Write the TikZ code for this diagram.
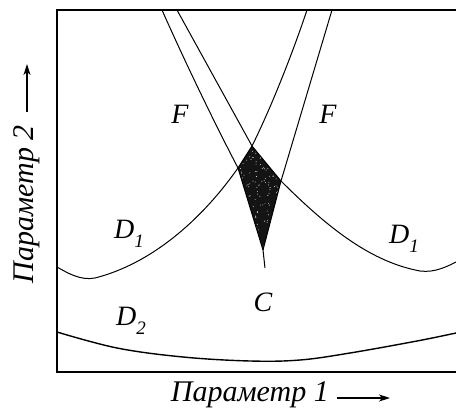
\documentclass[tikz,border=0pt]{standalone}
\usepackage{fontspec}
\setmainfont{Liberation Serif}
\usetikzlibrary{arrows.meta}
\newcommand{\lbl}[2]{\textit{#1}\raisebox{-0.3em}{\fontsize{19}{19}\selectfont\textit{#2}}}
\begin{document}
\begin{tikzpicture}[x=1pt,y=-1pt,
  curve/.style={line width=1pt,line join=round},
  frame/.style={line width=1.3pt},
  txt/.style={inner sep=0pt,font=\fontsize{28}{32}\selectfont\itshape},
  axtxt/.style={inner sep=0pt,font=\fontsize{30}{34}\selectfont\itshape},
  axarrow/.style={line width=1.1pt,-{Stealth[length=11pt,width=7pt,inset=3pt]}}]
\useasboundingbox (0,0) rectangle (456,415);
% frame
\draw[frame] (456,10) -- (57,10) -- (57,372) -- (456,372);
% key points
\coordinate (T) at (252,146);
\coordinate (L) at (238,168);
\coordinate (R) at (281,181);
\coordinate (B) at (263,250);
\coordinate (tip) at (265,268);
% shaded cusp region
\fill[black!92] (T) -- (R) -- (B) -- (L) -- cycle;
\begin{scope}
\clip (T) -- (R) -- (B) -- (L) -- cycle;
\pgfmathsetseed{7}
\foreach \i in {1,...,200}{
  \pgfmathsetmacro{\u}{rnd}
  \pgfmathsetmacro{\v}{rnd}
  \fill[white] ({238+\u*43},{146+\v*104}) circle (0.45pt);
}
\end{scope}
% left band outer line and left edge of the shaded region
\draw[curve] (162,10) .. controls (186,64) and (214,122) .. (L) -- (B) -- (tip);
% left band inner line, continuing as right D1 curve
\draw[curve] (177,10) -- (T) -- (R)
  .. controls (330,230) and (372,262) .. (420,271)
  .. controls (435,273) and (448,266) .. (456,262);
% right band left line, continuing as left D1 curve
\draw[curve] (307,10) .. controls (292,55) and (270,110) .. (T) -- (L)
  .. controls (200,222) and (150,264) .. (95,278)
  .. controls (80,281) and (66,272) .. (57,267);
% right band right line
\draw[curve] (332,10) -- (R) -- (B);
% D2 curve
\draw[line width=1.4pt] plot[smooth,tension=0.6] coordinates {(57,332) (117,348) (183,357) (250,361) (300,360) (350,353) (417,341) (456,333)};
% labels
\node[txt] (F1) at (180,114) {F};
\node[txt] (F2) at (328,114) {F};
\node[txt] (D1a) at (129,234) {\lbl{D}{1}};
\node[txt] (D1b) at (404,239) {\lbl{D}{1}};
\node[txt] (C) at (263,302) {C};
\node[txt] (D2) at (131,321) {\lbl{D}{2}};
% axis labels
\node[axtxt,anchor=east] (p1) at (329,395) {Параметр 1};
\coordinate (a1s) at (337,398);
\coordinate (a1e) at (390,398);
\draw[axarrow] (a1s) -- (a1e);
\node[axtxt,rotate=90,anchor=east] (p2) at (27,125) {Параметр 2};
\coordinate (a2s) at (27,112);
\coordinate (a2e) at (27,64);
\draw[axarrow] (a2s) -- (a2e);
\end{tikzpicture}
\end{document}
